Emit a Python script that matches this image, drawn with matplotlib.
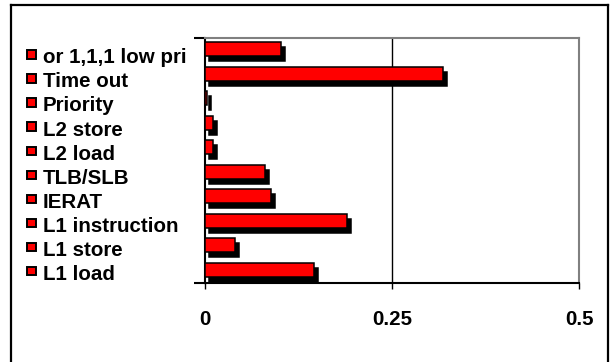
import matplotlib
matplotlib.use("Agg")
import matplotlib.pyplot as plt
from matplotlib.lines import Line2D
from matplotlib.patches import Rectangle
from matplotlib.transforms import ScaledTranslation

# -----------------------------
# DATA
# -----------------------------
categories = [
    "L1 load",
    "L1 store",
    "L1 instruction",
    "IERAT",
    "TLB/SLB",
    "L2 load",
    "L2 store",
    "Priority",
    "Time out",
    "or 1,1,1 low pri",
]
values = [0.146, 0.040, 0.190, 0.088, 0.080, 0.011, 0.011, 0.003, 0.318, 0.102]
x_ticks = [0, 0.25, 0.5]
x_tick_labels = ["0", "0.25", "0.5"]

# -----------------------------
# STYLE
# -----------------------------
W, H, DPI = 610, 362, 100
FONT = "Liberation Sans"
FSIZE = 14.8
RED = "#FF0000"
WALL = "#808080"

plt.rcParams["font.family"] = [FONT, "DejaVu Sans"]


def fx(px):
    return px / W


def fy(py):
    return 1 - py / H


fig = plt.figure(figsize=(W / DPI, H / DPI), dpi=DPI)
ax = fig.add_axes([fx(205), fy(283), fx(579) - fx(205), fy(38) - fy(283)])

ypos = list(range(len(categories)))
bar_y = [y + 0.05 for y in ypos]

# depth of the 3d bars: black copy shifted right and down
shift = ax.transData + ScaledTranslation(4 / DPI, -5 / DPI, fig.dpi_scale_trans)
ax.barh(bar_y, values, height=0.57, color="black", edgecolor="black",
        linewidth=1.1, transform=shift, zorder=3)
ax.barh(bar_y, values, height=0.57, color=RED, edgecolor="black",
        linewidth=1.1, zorder=4)

ax.set_xlim(0, 0.5)
ax.set_ylim(-0.5, len(categories) - 0.5)

# gridline at 0.25 only
ax.axvline(0.25, color="black", linewidth=1, zorder=1)

ax.set_xticks(x_ticks)
ax.set_xticklabels(x_tick_labels, fontsize=FSIZE, fontweight="bold")
ax.tick_params(axis="x", direction="out", length=4.3, width=1, pad=15)
ax.set_yticks([-0.5, len(categories) - 0.5])
ax.set_yticklabels([])
ax.tick_params(axis="y", direction="out", length=8, width=1.5)

for side in ("left", "bottom"):
    ax.spines[side].set_color("black")
    ax.spines[side].set_linewidth(1.5)
for side in ("top", "right"):
    ax.spines[side].set_color(WALL)
    ax.spines[side].set_linewidth(1.5)

# legend on the left, top entry first
for k, name in enumerate(reversed(categories)):
    base = 63.3 + 24.08 * k
    fig.text(fx(43), fy(base), name, fontsize=FSIZE, fontweight="bold",
             va="baseline", ha="left")
    mid = base - 8.8
    fig.patches.append(Rectangle((fx(27), fy(mid + 4.25)), fx(8.5), 8.5 / H,
                                 facecolor=RED, edgecolor="black",
                                 linewidth=1.4, transform=fig.transFigure))

# outer frame (bottom edge falls outside the image)
for xs, ys in [([11, 11], [5, 400]), ([11, 608], [5, 5]), ([608, 608], [5, 400])]:
    fig.lines.append(Line2D([fx(v) for v in xs], [fy(v) for v in ys],
                            color="black", linewidth=1.6,
                            transform=fig.transFigure))

fig.savefig("out.png", dpi=DPI)
